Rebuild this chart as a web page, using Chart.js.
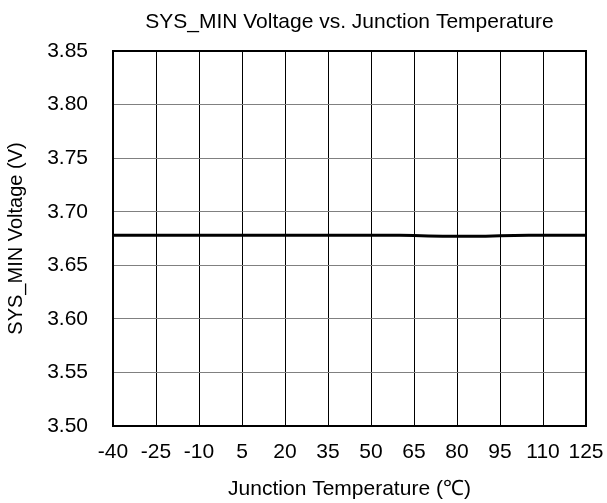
<!DOCTYPE html>
<html>
<head>
<meta charset="utf-8">
<script src="https://cdn.jsdelivr.net/npm/chart.js@4/dist/chart.umd.min.js"></script>
<style>
  html, body { margin: 0; padding: 0; background: #fff; }
  #wrap { width: 607px; height: 503px; }
</style>
</head>
<body>
<div id="wrap"><canvas id="sysmin"></canvas></div>
<script>
// junction temperature (°C) and measured SYS_MIN voltage (V)
var temps = [-40, -35, -30, -25, -20, -15, -10, -5, 0, 5, 10, 15, 20, 25, 30, 35, 40, 45, 50, 55, 60, 65, 70, 75, 80, 85, 90, 95, 100, 105, 110, 115, 120, 125];
var volts = [3.678, 3.678, 3.678, 3.678, 3.678, 3.678, 3.678, 3.678, 3.678, 3.678, 3.678, 3.678, 3.678, 3.678, 3.678, 3.678, 3.678, 3.678, 3.678, 3.678, 3.678, 3.6778, 3.6774, 3.6771, 3.677, 3.677, 3.6772, 3.6776, 3.6779, 3.678, 3.678, 3.678, 3.678, 3.678];
var xTicks = [-40, -25, -10, 5, 20, 35, 50, 65, 80, 95, 110, 125];
var yTicks = [3.50, 3.55, 3.60, 3.65, 3.70, 3.75, 3.80, 3.85];
var chartTitle = 'SYS_MIN Voltage vs. Junction Temperature';

var font = 'Arial, "Liberation Sans", sans-serif';

var points = [];
for (var i = 0; i < temps.length; i++) {
	points.push({x: temps[i], y: volts[i]});
}

// box round the plot area, title centred over it
var frame = {
	id: 'frame',
	afterDraw: function(chart) {
		var a = chart.chartArea;
		var c = chart.ctx;
		c.save();
		c.strokeStyle = '#000';
		c.lineWidth = 2;
		c.strokeRect(a.left, a.top, a.right - a.left, a.bottom - a.top);
		c.fillStyle = '#000';
		c.font = '21px ' + font;
		c.textAlign = 'center';
		c.textBaseline = 'alphabetic';
		c.fillText(chartTitle, (a.left + a.right) / 2, 28);
		c.restore();
	}
};

function noSidePad(scale) {
	scale.paddingLeft = 0;
	scale.paddingRight = 0;
}

new Chart(document.getElementById('sysmin'), {
	type: 'line',
	data: {
		datasets: [{
			label: 'SYS_MIN',
			data: points,
			borderColor: '#000',
			borderWidth: 3,
			pointRadius: 0,
			tension: 0
		}]
	},
	options: {
		responsive: true,
		maintainAspectRatio: false,
		animation: false,
		layout: { padding: { left: 0, right: 21, top: 51, bottom: 0 } },
		plugins: {
			legend: { display: false },
			tooltip: { enabled: false },
			title: { display: false }
		},
		scales: {
			x: {
				type: 'linear',
				min: -40,
				max: 125,
				afterBuildTicks: function(scale) {
					scale.ticks = xTicks.map(function(v) { return {value: v}; });
				},
				afterFit: function(scale) { scale.height = 77; noSidePad(scale); },
				grid: { color: '#000', lineWidth: 1, drawTicks: false },
				border: { display: false },
				ticks: {
					color: '#000',
					padding: 14,
					maxRotation: 0,
					autoSkip: false,
					font: { family: font, size: 21 }
				},
				title: {
					display: true,
					text: 'Junction Temperature (℃)',
					color: '#000',
					padding: { top: 1, bottom: 1 },
					font: { family: font, size: 21 }
				}
			},
			y: {
				min: 3.5,
				max: 3.85,
				afterBuildTicks: function(scale) {
					scale.ticks = yTicks.map(function(v) { return {value: v}; });
				},
				afterFit: function(scale) { scale.width = 113; },
				grid: { color: '#808080', lineWidth: 1, drawTicks: false },
				border: { display: false },
				ticks: {
					color: '#000',
					padding: 25,
					font: { family: font, size: 21 },
					callback: function(v) { return v.toFixed(2); }
				},
				title: {
					display: true,
					text: 'SYS_MIN Voltage (V)',
					color: '#000',
					padding: { top: 4, bottom: 0 },
					font: { family: font, size: 20 }
				}
			}
		}
	},
	plugins: [frame]
});
</script>
</body>
</html>
